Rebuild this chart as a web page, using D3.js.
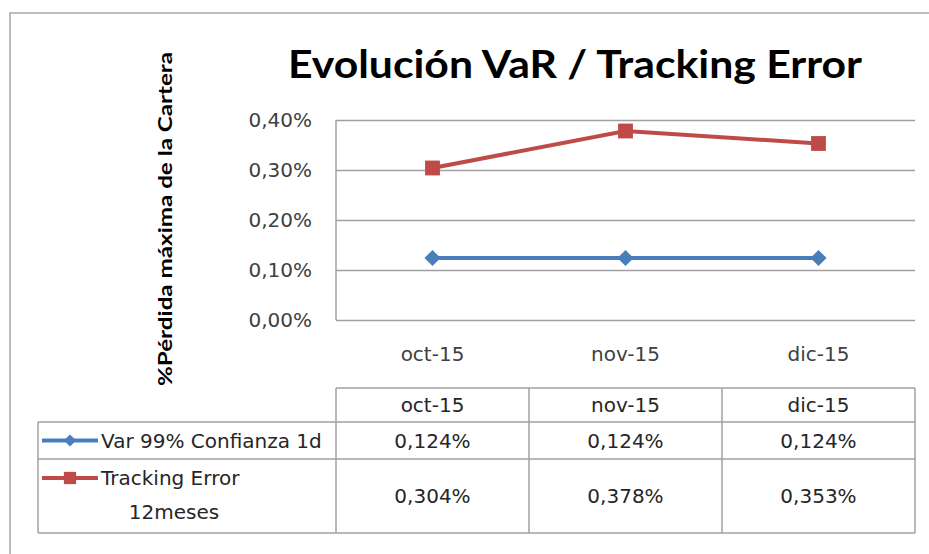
<!DOCTYPE html>
<html>
<head>
<meta charset="utf-8">
<script src="https://cdnjs.cloudflare.com/ajax/libs/d3/7.8.5/d3.min.js"></script>
<style>
  body { margin: 0; background: #fff; }
  text { font-family: "DejaVu Sans", sans-serif; }
</style>
</head>
<body>
<svg width="929" height="554"></svg>
<script>
// chart data
const months = ["oct-15", "nov-15", "dic-15"];
const varValues = [0.124, 0.124, 0.124];
const teValues = [0.304, 0.378, 0.353];
const yTicks = [0, 0.1, 0.2, 0.3, 0.4];

// diamond = square turned 45 degrees
const series = [
  { name: ["Var 99% Confianza 1d"], values: varValues, color: "#4a7ebb", rot: 45, size: 130, keySize: 75 },
  { name: ["Tracking Error", "12meses"], values: teValues, color: "#be4b48", rot: 0, size: 220, keySize: 150 }
];

const svg = d3.select("svg");
const fmt = v => d3.format(".2f")(v).replace(".", ",") + "%";
const fmt3 = v => d3.format(".3f")(v).replace(".", ",") + "%";

// outer frame (runs off the right / bottom edge)
svg.append("rect")
    .attr("x", 10).attr("y", 13)
    .attr("width", 940).attr("height", 560)
    .attr("fill", "none").attr("stroke", "#a6a6a6").attr("stroke-width", 1.5);

let x = d3.scaleBand().domain(months).range([336, 915]);
let y = d3.scaleLinear().domain([0, 0.4]).range([320, 120]);

// title
svg.append("text")
    .attr("x", 575).attr("y", 78)
    .attr("text-anchor", "middle")
    .attr("textLength", 574).attr("lengthAdjust", "spacingAndGlyphs")
    .style("font-family", "Lato, sans-serif")
    .style("font-size", "39px").style("font-weight", "bold")
    .text("Evolución VaR / Tracking Error");

// y axis title
svg.append("text")
    .attr("transform", "translate(172,219) rotate(-90)")
    .attr("text-anchor", "middle")
    .attr("textLength", 334).attr("lengthAdjust", "spacingAndGlyphs")
    .style("font-family", "Lato, sans-serif")
    .style("font-size", "19px").style("font-weight", "bold")
    .text("%Pérdida máxima de la Cartera");

// gridlines + tick labels
let yAxis = d3.axisLeft(y).tickValues(yTicks).tickSize(-(915 - 336)).tickFormat(fmt).tickPadding(24);
let gy = svg.append("g").attr("transform", "translate(336,0)").call(yAxis);
gy.select(".domain").remove();
gy.selectAll(".tick line").attr("stroke", "#a0a0a0").attr("stroke-width", 1.5);
gy.selectAll(".tick text")
    .style("font-size", "20px").attr("fill", "#404040")
    .style("font-family", "DejaVu Sans, sans-serif");

// left axis line
svg.append("line")
    .attr("x1", 336).attr("x2", 336).attr("y1", y(0.4)).attr("y2", y(0))
    .attr("stroke", "#a0a0a0").attr("stroke-width", 1.5);

// category labels
let xAxis = d3.axisBottom(x).tickSize(0).tickPadding(27);
let gx = svg.append("g").attr("transform", "translate(0," + y(0) + ")").call(xAxis);
gx.select(".domain").remove();
gx.selectAll(".tick text")
    .style("font-size", "20px").attr("fill", "#404040")
    .style("font-family", "DejaVu Sans, sans-serif");

// lines and markers
let line = d3.line()
    .x((d, i) => x(months[i]) + x.bandwidth() / 2)
    .y(d => y(d));

series.forEach(function (s) {
  svg.append("path")
      .attr("d", line(s.values))
      .attr("fill", "none")
      .attr("stroke", s.color)
      .attr("stroke-width", 4);
  svg.selectAll(null).data(s.values).enter()
      .append("path")
      .attr("transform", (d, i) => "translate(" + (x(months[i]) + x.bandwidth() / 2) + "," + y(d) + ") rotate(" + s.rot + ")")
      .attr("d", d3.symbol().type(d3.symbolSquare).size(s.size))
      .attr("fill", s.color);
});

// data table
const rowEdges = [388, 422, 459, 533];
const tableLeft = 38;
let grid = svg.append("g").attr("stroke", "#a0a0a0").attr("stroke-width", 1.5).attr("fill", "none");

grid.append("line").attr("x1", 336).attr("x2", 915).attr("y1", rowEdges[0]).attr("y2", rowEdges[0]);
[1, 2, 3].forEach(function (r) {
  grid.append("line").attr("x1", tableLeft).attr("x2", 915).attr("y1", rowEdges[r]).attr("y2", rowEdges[r]);
});
grid.append("line").attr("x1", tableLeft).attr("x2", tableLeft).attr("y1", rowEdges[1]).attr("y2", rowEdges[3]);
months.forEach(function (m) {
  grid.append("line").attr("x1", x(m)).attr("x2", x(m)).attr("y1", rowEdges[0]).attr("y2", rowEdges[3]);
});
grid.append("line").attr("x1", 915).attr("x2", 915).attr("y1", rowEdges[0]).attr("y2", rowEdges[3]);

let cellText = function (tx, ty, str, anchor) {
  return svg.append("text")
      .attr("x", tx).attr("y", ty)
      .attr("text-anchor", anchor || "middle")
      .attr("dy", "0.35em")
      .style("font-size", "20px").attr("fill", "#262626")
      .text(str);
};

months.forEach(function (m) {
  cellText(x(m) + x.bandwidth() / 2, 405, m);
});

series.forEach(function (s, r) {
  let top = rowEdges[r + 1], bot = rowEdges[r + 2];
  let mid = (top + bot) / 2;
  s.values.forEach(function (v, i) {
    cellText(x(months[i]) + x.bandwidth() / 2, mid, fmt3(v));
  });
  // legend key
  let ky = s.name.length > 1 ? top + 19 : mid;
  svg.append("line")
      .attr("x1", 42).attr("x2", 98).attr("y1", ky).attr("y2", ky)
      .attr("stroke", s.color).attr("stroke-width", 4);
  svg.append("path")
      .attr("transform", "translate(70," + ky + ") rotate(" + s.rot + ")")
      .attr("d", d3.symbol().type(d3.symbolSquare).size(s.keySize))
      .attr("fill", s.color);
  cellText(101, ky, s.name[0], "start");
  if (s.name.length > 1) {
    cellText(174, ky + 34, s.name[1]);
  }
});
</script>
</body>
</html>
